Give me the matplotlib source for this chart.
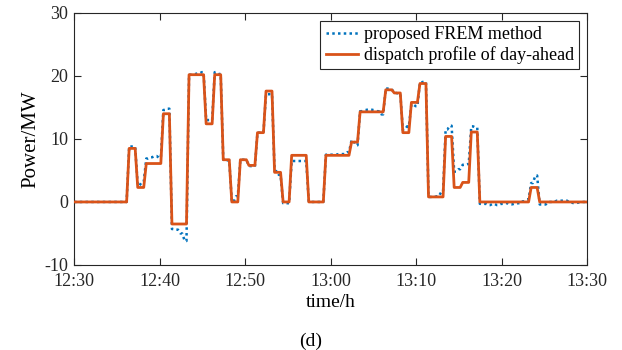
import matplotlib
matplotlib.use("Agg")
import matplotlib.pyplot as plt
from matplotlib.ticker import FuncFormatter
import numpy as np

# Day-ahead dispatch profile: one value per minute (12:30 + k min)
dispatch = [0, 0, 0, 0, 0, 0, 8.5, 2.3, 6.1, 6.1,
            14.0, -3.5, -3.5, 20.2, 20.2, 12.4, 20.2, 6.7, 0, 6.7,
            5.8, 11.0, 17.6, 4.7, 0, 7.4, 7.4, 0, 0, 7.4,
            7.4, 7.4, 9.5, 14.3, 14.3, 14.3, 17.8, 17.3, 11.0, 15.8,
            18.8, 0.8, 0.8, 10.4, 2.3, 3.1, 11.1, 0, 0, 0,
            0, 0, 0, 2.3, 0, 0, 0, 0, 0, 0]

# Proposed FREM method: one value per half minute
frem = [0, 0, 0, 0, 0, 0, 0, 0, 0, 0, 0, 0,
        8.8, 8.8, 2.6, 3.2, 6.9, 7.1, 7.3, 7.0,
        14.6, 14.8, -4.3, -4.4, -5.0, -6.2, 20.2, 20.3, 20.4, 20.6,
        13.0, 13.0, 20.6, 20.3, 6.7, 6.6, 0, 0.9, 6.7, 6.7,
        5.7, 5.6, 11.0, 11.0, 17.1, 17.1, 4.9, 4.3, -0.2, -0.2,
        6.5, 6.5, 6.5, 6.5, 0, 0, 0, 0, 7.5, 7.5,
        7.5, 7.6, 7.6, 7.9, 9.8, 9.0, 14.4, 14.6, 14.7, 14.6,
        14.4, 13.9, 18.0, 17.9, 17.3, 17.2, 11.4, 12.0, 15.5, 15.2,
        19.0, 19.1, 0.8, 0.8, 0.9, 1.6, 11.5, 12.1, 4.8, 5.2,
        5.9, 6.0, 12.0, 11.8, -0.3, -0.3, -0.5, -0.3, -0.5, -0.3,
        -0.2, -0.4, -0.3, -0.2, 0.1, 0.4, 3.0, 4.2, -0.4, -0.4,
        0, 0, 0.2, 0.2, 0.2, -0.1, -0.2, -0.1, 0, 0]

tick_minutes = [0, 10, 20, 30, 40, 50, 60]
tick_labels = ["12:30", "12:40", "12:50", "13:00", "13:10", "13:20", "13:30"]
y_ticks = [-10, 0, 10, 20, 30]


def step_path(values, dt, lead=0.45, plateau=None):
    if plateau is None:
        plateau = dt - 0.3
    xs, ys = [0.0], [values[0]]
    for j, v in enumerate(values):
        s = j * dt + lead
        xs += [s, s + plateau]
        ys += [v, v]
    xs.append(60.0)
    ys.append(values[-1])
    xs = np.clip(xs, 0, 60)
    return xs, ys


plt.rcParams['font.family'] = ['Liberation Serif', 'DejaVu Serif']
plt.rcParams['font.size'] = 13

fig = plt.figure(figsize=(6.22, 3.5), dpi=100)
ax = fig.add_axes([0.119, 0.243, 0.825, 0.72])

fx, fy = step_path(frem, 0.5, lead=0.45, plateau=0.2)
dx, dy = step_path(dispatch, 1.0, lead=0.45, plateau=0.7)

ax.plot(fx, fy, color='#0072BD', linestyle=(0, (1, 1.3)), linewidth=1.8,
        label='proposed FREM method', zorder=2)
ax.plot(dx, dy, color='#D95319', linewidth=2.0,
        label='dispatch profile of day-ahead', zorder=3)

ax.set_xlim(0, 60)
ax.set_ylim(-10, 30)
ax.set_xticks(tick_minutes)
ax.set_xticklabels(tick_labels)
ax.set_yticks(y_ticks)
ax.yaxis.set_major_formatter(FuncFormatter(lambda v, p: '%d' % v))
ax.tick_params(direction='in', top=True, right=True, length=5, width=0.8,
               labelsize=13, colors='#262626')
ax.tick_params(axis='x', pad=6)
ax.tick_params(axis='y', pad=4)
for sp in ax.spines.values():
    sp.set_color('#262626')
    sp.set_linewidth(0.8)

ax.set_xlabel('time/h', fontsize=14, labelpad=3)
ax.set_ylabel('Power/MW', fontsize=15, labelpad=3)
fig.text(0.5, 0.024, '(d)', ha='center', va='center', fontsize=14)

leg = ax.legend(loc='upper right', fontsize=13, frameon=True, fancybox=False,
                edgecolor='#262626', framealpha=1, handlelength=1.8,
                handletextpad=0.3, borderpad=0.3, labelspacing=0.15,
                borderaxespad=0.45)
leg.get_frame().set_linewidth(0.8)

fig.savefig('out.png', dpi=100)
